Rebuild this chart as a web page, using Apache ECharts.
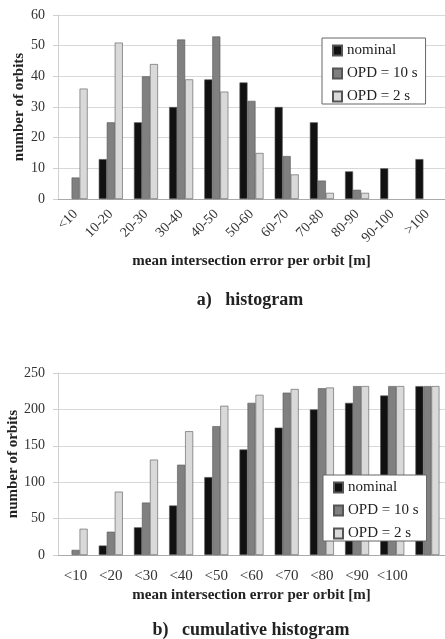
<!DOCTYPE html>
<html><head><meta charset="utf-8">
<script src="https://cdn.jsdelivr.net/npm/echarts@6/dist/echarts.min.js"></script>
<style>html,body{margin:0;padding:0;background:#fff}#c{width:445px;height:639px}</style>
</head><body><div id="c"></div>
<script>
const seriesNames = ['nominal', 'OPD = 10 s', 'OPD = 2 s'];
const histCategories = ['<10','10-20','20-30','30-40','40-50','50-60','60-70','70-80','80-90','90-100','>100'];
const histNominal = [0, 13, 25, 30, 39, 38, 30, 25, 9, 10, 13];
const histOPD10 = [7, 25, 40, 52, 53, 32, 14, 6, 3, 0, 0];
const histOPD2 = [36, 51, 44, 39, 35, 15, 8, 2, 2, 0, 0];
const cumCategories = ['<10','<20','<30','<40','<50','<60','<70','<80','<90','<100',''];
const cumNominal = [0, 13, 38, 68, 107, 145, 175, 200, 209, 219, 232];
const cumOPD10 = [7, 32, 72, 124, 177, 209, 223, 229, 232, 232, 232];
const cumOPD2 = [36, 87, 131, 170, 205, 220, 228, 230, 232, 232, 232];
const histTicks = {min: 0, max: 60, interval: 10};
const cumTicks = {min: 0, max: 250, interval: 50};

const colors = ['#111111', '#808080', '#d9d9d9'];
const serif = '"Liberation Serif", "DejaVu Serif", serif';
const chart = echarts.init(document.getElementById('c'), null, {renderer: 'canvas'});

function bars(gi, data) {
  return data.map((d, i) => ({
    name: seriesNames[i], type: 'bar', xAxisIndex: gi, yAxisIndex: gi,
    data: d.map(v => (v === 0 ? null : v)), barWidth: 8, barGap: '0%',
    itemStyle: {color: colors[i], borderColor: '#555', borderWidth: 0.6},
    emphasis: {disabled: true}
  }));
}
function legend(left, top) {
  return {
    data: seriesNames.map(n => ({name: n})), orient: 'vertical', left: left, top: top,
    width: 103, itemWidth: 9, itemHeight: 10, itemGap: 8, padding: [5, 8, 0, 10],
    borderColor: '#666', borderWidth: 1, backgroundColor: '#fff',
    textStyle: {fontFamily: serif, fontSize: 15, color: '#222'}, icon: 'rect',
    selectedMode: false
  };
}
const yAxisCommon = {
  type: 'value', name: 'number of orbits', nameLocation: 'middle', nameMoveOverlap: false,
  nameTextStyle: {fontFamily: serif, fontSize: 15, fontWeight: 'bold', color: '#222'},
  axisLabel: {fontFamily: serif, fontSize: 14, color: '#333', margin: 13},
  axisLine: {show: true, lineStyle: {color: '#d0d0d0'}},
  axisTick: {show: true, length: 5, lineStyle: {color: '#d0d0d0'}},
  splitLine: {lineStyle: {color: '#d8d8d8', width: 1}}
};
const xAxisCommon = {
  type: 'category', name: 'mean intersection error per orbit [m]', nameLocation: 'middle', nameMoveOverlap: false,
  nameTextStyle: {fontFamily: serif, fontSize: 15, fontWeight: 'bold', color: '#222'},
  axisLine: {lineStyle: {color: '#aaa'}}, axisTick: {show: false}
};

chart.setOption({
  animation: false,
  color: colors,
  title: [
    {text: 'a)   histogram', left: 245, top: 286, textAlign: 'center',
     textStyle: {fontFamily: serif, fontSize: 18, fontWeight: 'bold', color: '#222'}},
    {text: 'b)   cumulative histogram', left: 246, top: 616, textAlign: 'center',
     textStyle: {fontFamily: serif, fontSize: 18, fontWeight: 'bold', color: '#222'}}
  ],
  legend: [legend(322, 38), legend(323, 475)],
  grid: [
    {left: 58, right: 0, top: 15, height: 184, containLabel: false, outerBoundsMode: 'none'},
    {left: 58, right: 0, top: 373, height: 182, containLabel: false, outerBoundsMode: 'none'}
  ],
  xAxis: [
    Object.assign({}, xAxisCommon, {gridIndex: 0, data: histCategories, nameGap: 55,
      axisLabel: {fontFamily: serif, fontSize: 14, color: '#333', rotate: 45, margin: 13, interval: 0}}),
    Object.assign({}, xAxisCommon, {gridIndex: 1, data: cumCategories, nameGap: 33,
      axisLabel: {fontFamily: serif, fontSize: 15, color: '#333', margin: 14, interval: 0}})
  ],
  yAxis: [
    Object.assign({}, yAxisCommon, {gridIndex: 0, nameGap: 31}, histTicks),
    Object.assign({}, yAxisCommon, {gridIndex: 1, nameGap: 37}, cumTicks)
  ],
  series: bars(0, [histNominal, histOPD10, histOPD2]).concat(bars(1, [cumNominal, cumOPD10, cumOPD2]))
});
</script>
</body></html>
